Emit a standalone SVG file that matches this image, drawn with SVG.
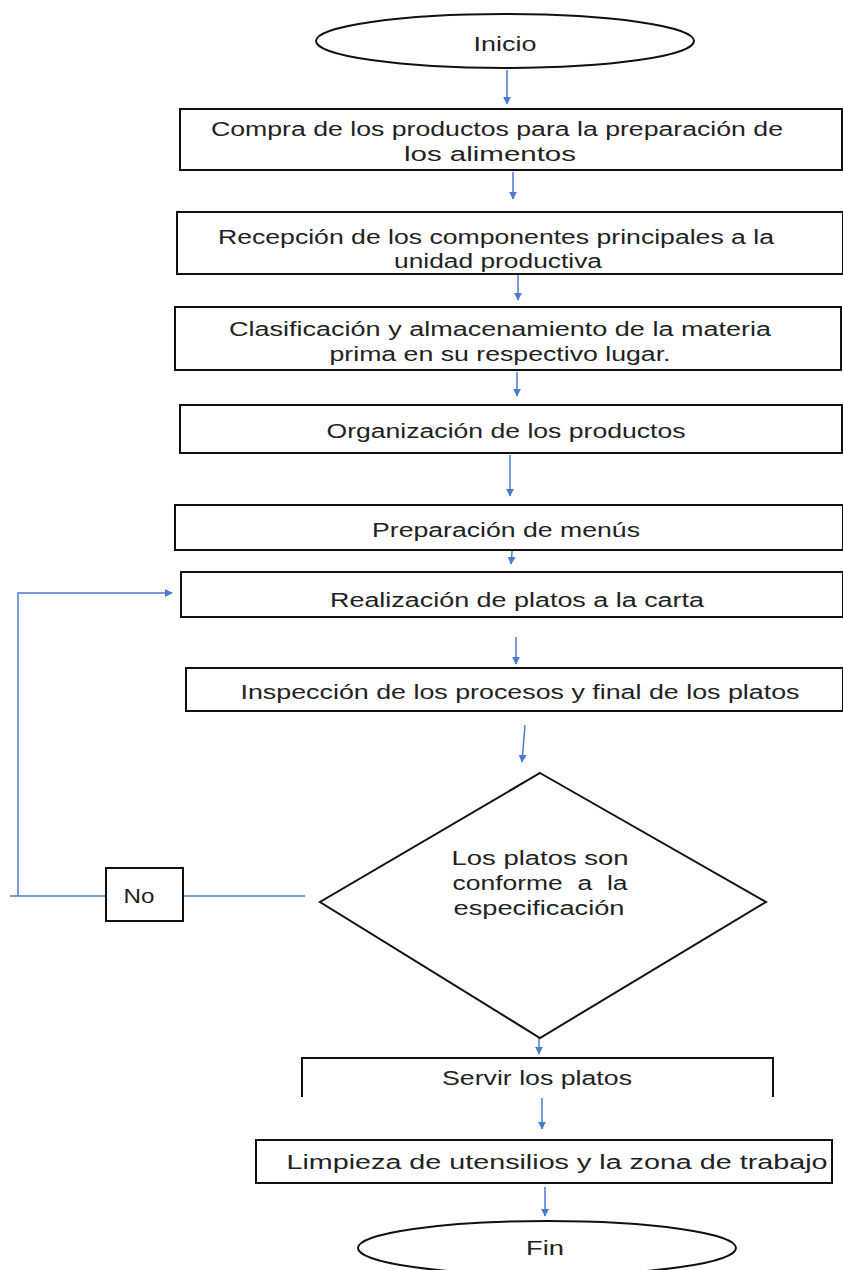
<svg xmlns="http://www.w3.org/2000/svg" width="843" height="1270" viewBox="0 0 843 1270">
<defs>
<style>
.n{fill:#fff;stroke:#111;stroke-width:2}
.t{font-family:"Liberation Sans",Arial,sans-serif;font-size:20px;fill:#222;text-anchor:middle}
.c{stroke:#4a7bd0;stroke-width:1.5;fill:none}
</style>
<marker id="ah" viewBox="0 0 10 10" refX="9" refY="5" markerWidth="8" markerHeight="8" markerUnits="userSpaceOnUse" orient="auto">
<path d="M0,0 L10,5 L0,10 z" fill="#4a7bd0"/>
</marker>
</defs>
<rect width="843" height="1270" fill="#fff"/>
<g id="connectors">
<line class="c" x1="507" y1="70" x2="507" y2="104" marker-end="url(#ah)"/>
<line class="c" x1="513" y1="172" x2="513" y2="199" marker-end="url(#ah)"/>
<line class="c" x1="518" y1="275" x2="518" y2="300" marker-end="url(#ah)"/>
<line class="c" x1="517" y1="372" x2="517" y2="396" marker-end="url(#ah)"/>
<line class="c" x1="510" y1="455" x2="510" y2="496" marker-end="url(#ah)"/>
<line class="c" x1="513" y1="541" x2="511" y2="564" marker-end="url(#ah)"/>
<line class="c" x1="516" y1="637" x2="516" y2="664" marker-end="url(#ah)"/>
<line class="c" x1="525" y1="725" x2="522" y2="762" marker-end="url(#ah)"/>
<line class="c" x1="539" y1="1037" x2="539" y2="1054" marker-end="url(#ah)"/>
<line class="c" x1="542" y1="1098" x2="542" y2="1129" marker-end="url(#ah)"/>
<line class="c" x1="545" y1="1187" x2="545" y2="1216" marker-end="url(#ah)"/>
<line class="c" x1="305" y1="896" x2="183" y2="896"/>
<line class="c" x1="106" y1="896" x2="10" y2="896"/>
<polyline class="c" points="18,896 18,593 172,593" marker-end="url(#ah)"/>
</g>
<g id="inicio"><ellipse class="n" cx="505" cy="41" rx="189" ry="27"/><text class="t" x="505" y="51" textLength="63" lengthAdjust="spacingAndGlyphs">Inicio</text></g>
<g id="compra"><rect class="n" x="180" y="109" width="662" height="61"/><text class="t" x="497" y="136" textLength="572" lengthAdjust="spacingAndGlyphs">Compra de los productos para la preparación de</text><text class="t" x="490" y="161" textLength="172" lengthAdjust="spacingAndGlyphs">los alimentos</text></g>
<g id="recepcion"><rect class="n" x="177" y="212" width="666" height="62"/><text class="t" x="496" y="244" textLength="556" lengthAdjust="spacingAndGlyphs">Recepción de los componentes principales a la</text><text class="t" x="498" y="268" textLength="208" lengthAdjust="spacingAndGlyphs">unidad productiva</text></g>
<g id="clasificacion"><rect class="n" x="175" y="307" width="666" height="63"/><text class="t" x="500" y="336" textLength="542" lengthAdjust="spacingAndGlyphs">Clasificación y almacenamiento de la materia</text><text class="t" x="500" y="361" textLength="341" lengthAdjust="spacingAndGlyphs">prima en su respectivo lugar.</text></g>
<g id="organizacion"><rect class="n" x="180" y="405" width="662" height="48"/><text class="t" x="506" y="438" textLength="359" lengthAdjust="spacingAndGlyphs">Organización de los productos</text></g>
<g id="preparacion"><rect class="n" x="175" y="505" width="668" height="45"/><text class="t" x="506" y="537" textLength="268" lengthAdjust="spacingAndGlyphs">Preparación de menús</text></g>
<g id="realizacion"><rect class="n" x="181" y="572" width="662" height="45"/><text class="t" x="517" y="607" textLength="374" lengthAdjust="spacingAndGlyphs">Realización de platos a la carta</text></g>
<g id="inspeccion"><rect class="n" x="186" y="668" width="657" height="43"/><text class="t" x="520" y="699" textLength="559" lengthAdjust="spacingAndGlyphs">Inspección de los procesos y final de los platos</text></g>
<g id="decision"><polygon class="n" points="540,773 766,902 540,1038 320,902"/><text class="t" x="540" y="865" textLength="177" lengthAdjust="spacingAndGlyphs">Los platos son</text><text class="t" x="540" y="890" textLength="175" lengthAdjust="spacingAndGlyphs">conforme&#160;&#160;a&#160;&#160;la</text><text class="t" x="539" y="915" textLength="171" lengthAdjust="spacingAndGlyphs">especificación</text></g>
<g id="no"><rect class="n" x="106" y="868" width="77" height="53"/><text class="t" x="139" y="903" textLength="31" lengthAdjust="spacingAndGlyphs">No</text></g>
<g id="servir"><polyline class="n" points="302,1097 302,1058 773,1058 773,1097" style="fill:none"/><text class="t" x="537" y="1085" textLength="190" lengthAdjust="spacingAndGlyphs">Servir los platos</text></g>
<g id="limpieza"><rect class="n" x="256" y="1140" width="576" height="43"/><text class="t" x="557" y="1169" textLength="541" lengthAdjust="spacingAndGlyphs">Limpieza de utensilios y la zona de trabajo</text></g>
<g id="fin"><ellipse class="n" cx="547" cy="1248" rx="189" ry="27"/><text class="t" x="545" y="1255" textLength="38" lengthAdjust="spacingAndGlyphs">Fin</text></g>
</svg>
